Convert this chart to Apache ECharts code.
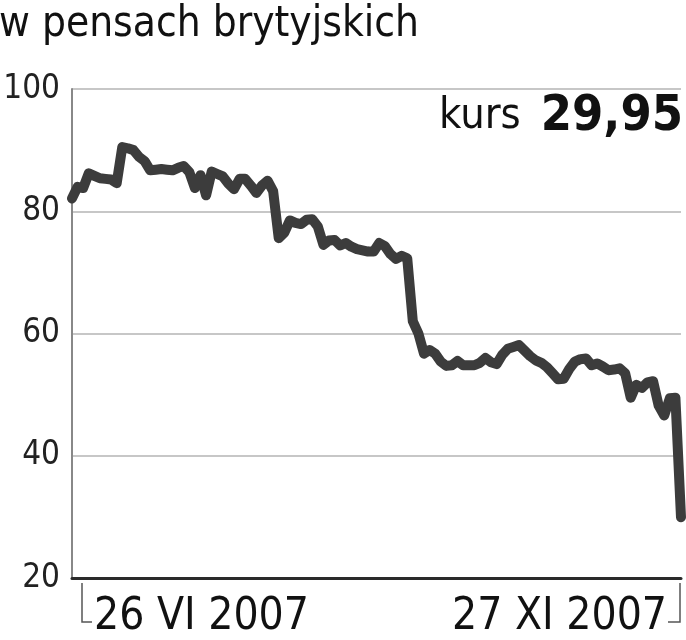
<!DOCTYPE html>
<html>
<head>
<meta charset="utf-8">
<script src="https://cdn.jsdelivr.net/npm/echarts@6/dist/echarts.min.js"></script>
<style>
html,body{margin:0;padding:0;background:#fff;}
#c{width:686px;height:640px;}
</style>
</head>
<body>
<div id="c"></div>
<script>
var titleText = 'w pensach brytyjskich';
var kursLabel = 'kurs';
var kursValue = '29,95';
var startLabel = '26 VI 2007';
var endLabel = '27 XI 2007';
var yTicks = [20, 40, 60, 80, 100];

var prices = [
  82.1, 84.0, 83.8, 86.2, 85.8, 85.4, 85.3, 85.2, 84.6, 90.5,
  90.3, 90.0, 88.9, 88.2, 86.7, 86.8, 86.9, 86.8, 86.7, 87.1,
  87.4, 86.4, 83.8, 85.9, 82.6, 86.5, 86.1, 85.7, 84.5, 83.6,
  85.3, 85.3, 84.2, 83.0, 84.2, 85.0, 83.3, 75.6, 76.5, 78.5,
  78.1, 77.9, 78.6, 78.7, 77.5, 74.5, 75.2, 75.3, 74.4, 74.8,
  74.2, 73.8, 73.6, 73.4, 73.4, 74.8, 74.3, 73.0, 72.2, 72.7,
  72.3, 62.0, 60.0, 56.7, 57.3, 56.7, 55.4, 54.7, 54.8, 55.5,
  54.8, 54.8, 54.8, 55.2, 56.0, 55.3, 55.0, 56.5, 57.5, 57.8,
  58.1, 57.2, 56.3, 55.6, 55.2, 54.5, 53.5, 52.5, 52.6, 54.2,
  55.4, 55.8, 55.9, 54.8, 55.1, 54.6, 54.0, 54.1, 54.3, 53.5,
  49.5, 51.6, 51.1, 52.0, 52.2, 48.2, 46.6, 49.4, 49.5, 29.95
];

var categories = prices.map(function (v, i) {
  if (i === 0) return startLabel;
  if (i === prices.length - 1) return endLabel;
  return String(i);
});

var FONT = '"DejaVu Sans Condensed", "DejaVu Sans", sans-serif';

var chart = echarts.init(document.getElementById('c'), null, {renderer: 'canvas'});
var option = {
  backgroundColor: '#ffffff',
  animation: false,
  title: [
    {
      text: titleText,
      left: -1, top: 4, padding: 0,
      textStyle: {fontFamily: FONT, fontSize: 42, fontWeight: 'normal', color: '#111', lineHeight: 42}
    },
    {
      text: '{a|' + kursLabel + '}{b|' + kursValue + '}',
      right: 3, top: 92, padding: 0,
      textStyle: {
        fontWeight: 'normal',
        rich: {
          a: {fontFamily: FONT, fontSize: 43, fontWeight: 'normal', color: '#111', padding: [0, 20, 0, 0]},
          b: {fontFamily: FONT, fontSize: 50, fontWeight: 'bold', color: '#111'}
        }
      }
    }
  ],
  grid: {left: 72, right: 5, top: 89, bottom: 61, containLabel: false},
  xAxis: {
    type: 'category',
    data: categories,
    boundaryGap: false,
    axisLine: {show: true, lineStyle: {color: '#2a2a2a', width: 3}},
    axisTick: {show: false},
    splitLine: {show: false},
    axisLabel: {
      interval: function (i) { return i === 0 || i === categories.length - 1; },
      alignMinLabel: 'left',
      alignMaxLabel: 'right',
      margin: 18,
      formatter: function (v, i) {
        if (i === 0) return '{l|' + v + '}';
        return '{r|' + v + '}';
      },
      rich: {
        l: {fontFamily: FONT, fontSize: 44, color: '#111', lineHeight: 44, padding: [0, 0, 0, 22]},
        r: {fontFamily: FONT, fontSize: 44, color: '#111', lineHeight: 44, padding: [0, 14, 0, 0]}
      }
    }
  },
  yAxis: {
    type: 'value',
    min: 20, max: 100, interval: 20,
    axisLine: {show: true, lineStyle: {color: '#888', width: 2}},
    axisTick: {show: false},
    splitLine: {show: true, lineStyle: {color: '#b4b4b4', width: 1.5}},
    axisLabel: {
      margin: 12,
      fontFamily: FONT, fontSize: 33, color: '#222',
      formatter: function (v) { return yTicks.indexOf(v) >= 0 ? String(v) : ''; }
    }
  },
  series: [{
    type: 'line',
    data: prices,
    symbol: 'none',
    smooth: false,
    lineStyle: {color: '#3c3c3c', width: 10, cap: 'round', join: 'round'},
    z: 5
  }],
  graphic: [
    {type: 'polyline', shape: {points: [[82, 583], [82, 622], [92, 622]]}, style: {stroke: '#555', lineWidth: 1.5, fill: null}},
    {type: 'polyline', shape: {points: [[668, 622], [680, 622], [680, 583]]}, style: {stroke: '#555', lineWidth: 1.5, fill: null}}
  ]
};
chart.setOption(option);
</script>
</body>
</html>
